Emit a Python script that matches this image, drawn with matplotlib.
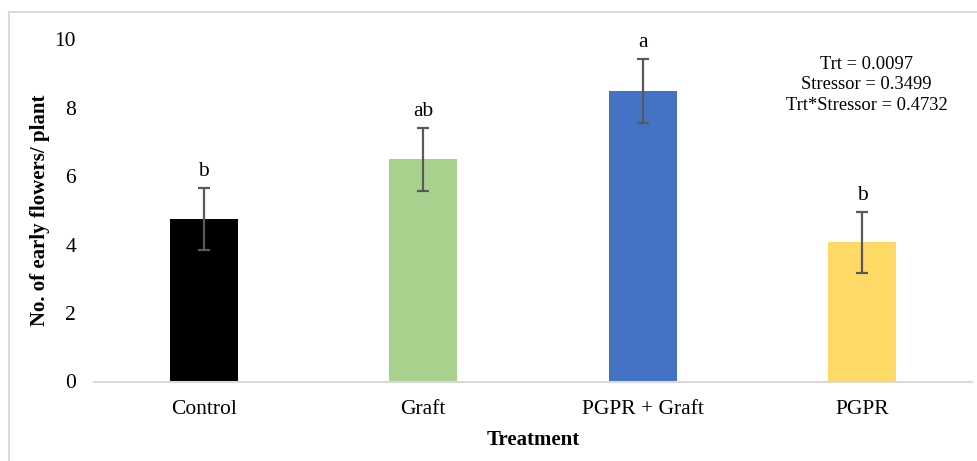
import matplotlib.pyplot as plt
from matplotlib.patches import Rectangle

treatments = ['Control', 'Graft', 'PGPR + Graft', 'PGPR']
means = [4.75, 6.5, 8.49, 4.07]
errors = [0.9, 0.92, 0.94, 0.9]
letters = ['b', 'ab', 'a', 'b']
bar_colors = ['#000000', '#A9D18E', '#4472C4', '#FFD966']
pvalues_text = 'Trt = 0.0097\nStressor = 0.3499\nTrt*Stressor = 0.4732'

plt.rcParams['font.family'] = ['Liberation Serif', 'DejaVu Serif']

fig = plt.figure(figsize=(9.78, 4.61), dpi=100)
ax = fig.add_axes([94 / 978, 1 - 381.5 / 461, (972 - 94) / 978, (381.5 - 39.5) / 461])

x = range(len(treatments))
ax.bar(x, means, width=0.31, color=bar_colors, zorder=2)
ax.errorbar(x, means, yerr=errors, fmt='none', ecolor='#595959',
            elinewidth=1.6, capsize=4.3, capthick=1.6, zorder=3)

# significance letters above the error bars
for i, (m, e, s) in enumerate(zip(means, errors, letters)):
    ax.annotate(s, (i, m + e), xytext=(0, 8.6), textcoords='offset points',
                ha='center', va='baseline', fontsize=15.5)

ax.text(3.02, 8.67, pvalues_text, ha='center', va='center', fontsize=13.3,
        linespacing=1.3)

ax.set_xlim(-0.5, 3.5)
ax.set_ylim(0, 10)
ax.set_yticks([0, 2, 4, 6, 8, 10])
ax.set_xticks(list(x))
ax.set_xticklabels(treatments)
ax.tick_params(axis='both', length=0, labelsize=15.5)
ax.tick_params(axis='y', pad=13)
ax.tick_params(axis='x', pad=13)

for side in ['top', 'right', 'left']:
    ax.spines[side].set_visible(False)
ax.spines['bottom'].set_color('#d9d9d9')
ax.spines['bottom'].set_linewidth(1.5)

ax.set_xlabel('Treatment', fontsize=15, fontweight='bold', labelpad=8)
ax.set_ylabel('No. of early flowers/ plant', fontsize=15, fontweight='bold', labelpad=3.5)

# outer chart frame (cut off at the right and bottom)
fig.patches.append(Rectangle((9 / 978, -0.1), 1.1, 1.1 - 12 / 461,
                             transform=fig.transFigure, fill=False,
                             edgecolor='#d9d9d9', linewidth=1.5))

fig.savefig('out.png', dpi=100)
